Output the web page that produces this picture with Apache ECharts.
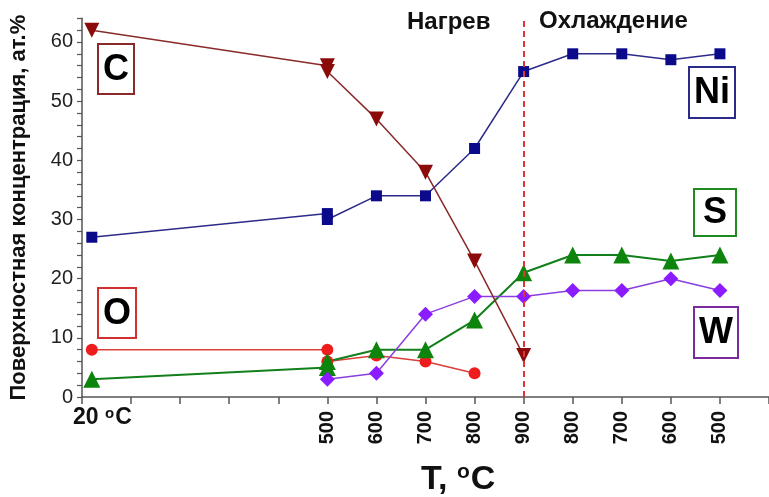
<!DOCTYPE html>
<html>
<head>
<meta charset="utf-8">
<script src="https://cdn.jsdelivr.net/npm/echarts@6/dist/echarts.min.js"></script>
<style>
html,body{margin:0;padding:0;background:#fff;}
#chart{width:769px;height:497px;}
</style>
</head>
<body>
<div id="chart"></div>
<script>
// Axis positions: heating T as is (20..900); cooling T mapped to 1800 - T (800 -> 1000 ... 500 -> 1300)
const heatLabels = [500, 600, 700, 800, 900];
const coolLabels = [800, 700, 600, 500];

const cX  = [20, 500, 500, 600, 700, 800, 900];
const cY  = [62, 56, 55, 47, 38, 23, 7];

const niX = [20, 500, 500, 600, 700, 800, 900, 1000, 1100, 1200, 1300];
const niY = [27, 31, 30, 34, 34, 42, 55, 58, 58, 57, 58];

const oX  = [20, 500, 500, 600, 700, 800];
const oY  = [8, 8, 6, 7, 6, 4];

const sX  = [20, 500, 500, 600, 700, 800, 900, 1000, 1100, 1200, 1300];
const sY  = [3, 5, 6, 8, 8, 13, 21, 24, 24, 23, 24];

const wX  = [500, 600, 700, 800, 900, 1000, 1100, 1200, 1300];
const wY  = [3, 4, 14, 17, 17, 18, 18, 20, 18];

const zip = (xs, ys) => xs.map((x, i) => [x, ys[i]]);

const chart = echarts.init(document.getElementById('chart'), null, {renderer: 'canvas'});

function box(x, y, w, h, color, label) {
  return {
    type: 'group', left: x, top: y,
    children: [
      {type: 'rect', shape: {x: 0, y: 0, width: w, height: h},
       style: {fill: '#fff', stroke: color, lineWidth: 2}},
      {type: 'text', x: w / 2, y: h / 2 + 1,
       style: {text: label, fill: '#000', font: 'bold 36px Arial, "Liberation Sans"',
               align: 'center', verticalAlign: 'middle'}}
    ]
  };
}

const option = {
  backgroundColor: '#fff',
  animation: false,
  grid: {left: 82, top: 18.3, width: 690, height: 378.7, containLabel: false},
  xAxis: {
    type: 'value', min: 0, max: 1400, interval: 100,
    axisLine: {lineStyle: {color: '#555', width: 1.5}},
    axisTick: {show: true, inside: false, length: 7, lineStyle: {color: '#555', width: 1.5}},
    splitLine: {show: false},
    axisLabel: {
      rotate: 90, margin: 14, color: '#111',
      fontFamily: 'Arial, "Liberation Sans"', fontSize: 20, fontWeight: 'bold',
      formatter: v => {
        if (v >= 500 && v <= 900) return String(v);
        if (v >= 1000 && v <= 1300) return String(1800 - v);
        return '';
      }
    }
  },
  yAxis: {
    type: 'value', min: 0, max: 64, interval: 2,
    name: 'Поверхностная концентрация, ат.%',
    nameLocation: 'middle', nameGap: 52, nameRotate: 90,
    nameTextStyle: {fontFamily: 'Arial, "Liberation Sans"', fontSize: 22, fontWeight: 'bold', color: '#111'},
    axisLine: {show: true, lineStyle: {color: '#555', width: 1.5}},
    axisTick: {show: true, length: 5, lineStyle: {color: '#555', width: 1.2}},
    splitLine: {show: false},
    axisLabel: {
      margin: 9, color: '#222', fontFamily: 'Arial, "Liberation Sans"', fontSize: 20,
      formatter: v => (v % 10 === 0 ? String(v) : '')
    }
  },
  series: [
    {
      name: 'O', type: 'line', data: zip(oX, oY),
      symbol: 'circle', symbolSize: 12,
      lineStyle: {color: '#d9403a', width: 1.5},
      itemStyle: {color: '#ee1c1c'}
    },
    {
      name: 'S', type: 'line', data: zip(sX, sY),
      symbol: 'triangle', symbolSize: 17,
      lineStyle: {color: '#12801a', width: 2},
      itemStyle: {color: '#0d850d'}
    },
    {
      name: 'W', type: 'line', data: zip(wX, wY),
      symbol: 'diamond', symbolSize: 15,
      lineStyle: {color: '#8a3ee0', width: 1.5},
      itemStyle: {color: '#8b1cff'}
    },
    {
      name: 'Ni', type: 'line', data: zip(niX, niY),
      symbol: 'rect', symbolSize: 11,
      lineStyle: {color: '#2b2b8a', width: 1.5},
      itemStyle: {color: '#0a0a8a'}
    },
    {
      name: 'C', type: 'line', data: zip(cX, cY),
      symbol: 'triangle', symbolRotate: 180, symbolSize: 15,
      lineStyle: {color: '#8a2a2a', width: 1.5},
      itemStyle: {color: '#8b0a0a'},
      z: 3,
      markLine: {
        silent: true, symbol: 'none', label: {show: false},
        lineStyle: {color: '#e03535', type: [6, 4], width: 2},
        data: [[{coord: [900, 0]}, {coord: [900, 63.7]}]]
      }
    }
  ],
  graphic: [
    {type: 'text', left: 407, top: 10,
     style: {text: 'Нагрев', fill: '#111', font: 'bold 24px Arial, "Liberation Sans"'}},
    {type: 'text', left: 539, top: 9,
     style: {text: 'Охлаждение', fill: '#111', font: 'bold 24px Arial, "Liberation Sans"'}},
    {type: 'text', left: 73, top: 406,
     style: {text: '20 {s|o}C', fill: '#111', font: 'bold 23px Arial, "Liberation Sans"',
             rich: {s: {fontSize: 15, fontWeight: 'bold', fontFamily: 'Arial', padding: [0, 1, 9, 0], fill: '#111'}}}},
    {type: 'text', left: 421, top: 462,
     style: {text: 'T, {s|o}C', fill: '#111', font: 'bold 34px Arial, "Liberation Sans"',
             rich: {s: {fontSize: 21, fontWeight: 'bold', fontFamily: 'Arial', padding: [0, 1, 14, 0], fill: '#111'}}}},
    box(97, 43, 36, 50, '#8b2a2a', 'C'),
    box(688, 66, 46, 51, '#2a2a8a', 'Ni'),
    box(693, 188, 42, 47, '#1f8a1f', 'S'),
    box(97, 287, 38, 50, '#d03030', 'O'),
    box(693, 306, 44, 51, '#7a2a9a', 'W')
  ]
};
chart.setOption(option);
</script>
</body>
</html>
